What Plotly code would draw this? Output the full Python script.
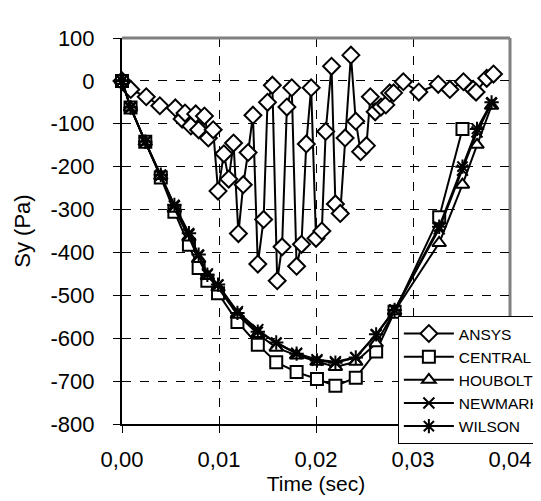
import plotly.graph_objects as go

# ---- data ----
ansys_t = [0, 0.0009, 0.0025, 0.0039, 0.0055, 0.0062, 0.0065, 0.0071, 0.0076, 0.0079, 0.0085, 0.0089,
           0.0094, 0.0099, 0.0105, 0.0110, 0.0115, 0.0120, 0.0125, 0.0130, 0.0135, 0.0140, 0.0146,
           0.0150, 0.0155, 0.0160, 0.0165, 0.0170, 0.0175, 0.0180, 0.0185, 0.0190, 0.0195, 0.0200,
           0.0206, 0.0210, 0.0216, 0.0220, 0.0225, 0.0230, 0.0236, 0.0241, 0.0246, 0.0252, 0.0256,
           0.0261, 0.0267, 0.0272, 0.0276, 0.0280, 0.0290, 0.0306, 0.0326, 0.0338, 0.0352, 0.0362,
           0.0365, 0.0376, 0.0383]
ansys_v = [0, -20, -37, -58, -63, -89, -75, -105, -77, -114, -82, -133,
           -114, -257, -170, -229, -145, -356, -242, -167, -80, -427, -323,
           -50, -10, -466, -387, -61, -16, -432, -381, -147, -16, -367,
           -350, -118, 34, -287, -309, -133, 60, -94, -165, -151, -37,
           -72, -61, -56, -28, -28, -2, -26, -8, -20, -2, -20,
           -26, 6, 16]

central_t = [0, 0.00088, 0.0024, 0.0040, 0.0054, 0.0069, 0.0079, 0.0088, 0.0099, 0.0119, 0.0140,
             0.0159, 0.0180, 0.0201, 0.0220, 0.0241, 0.0262, 0.0281, 0.0327, 0.0351]
central_v = [0, -62, -142, -225, -305, -382, -436, -466, -495, -562, -615,
             -656, -679, -695, -711, -692, -631, -538, -318, -112]

fem_t = [0, 0.00088, 0.0024, 0.0040, 0.0054, 0.0069, 0.0079, 0.0088, 0.0099, 0.0119, 0.0140,
         0.0159, 0.0180, 0.0201, 0.0220, 0.0241, 0.0262, 0.0281, 0.0327, 0.0351, 0.0366, 0.0381]
houbolt_v = [0, -62, -142, -222, -298, -365, -415, -455, -482, -545, -590,
             -622, -640, -655, -667, -655, -612, -537, -378, -242, -149, -58]
newmark_v = [0, -62, -142, -220, -292, -358, -407, -450, -476, -538, -580,
             -612, -635, -650, -655, -645, -592, -534, -345, -208, -119, -52]
wilson_v = [0, -62, -142, -219, -289, -355, -405, -452, -475, -541, -585,
            -610, -636, -652, -657, -645, -591, -534, -340, -200, -112, -50]

x_ticks = [0, 0.01, 0.02, 0.03, 0.04]
x_labels = ["0,00", "0,01", "0,02", "0,03", "0,04"]
y_ticks = [100, 0, -100, -200, -300, -400, -500, -600, -700, -800]
y_labels = ["100", "0", "-100", "-200", "-300", "-400", "-500", "-600", "-700", "-800"]

FONT = "Liberation Sans, Arial, sans-serif"

def trace(name, t, v, symbol, fill="white", size=11):
    return go.Scatter(
        x=t, y=v, name=name, mode="lines+markers",
        line=dict(color="black", width=2),
        marker=dict(symbol=symbol, size=size, color=fill,
                    line=dict(color="black", width=2)),
        cliponaxis=False,
    )

fig = go.Figure()
fig.add_trace(trace("ANSYS", ansys_t, ansys_v, "diamond", size=13))
fig.add_trace(trace("CENTRAL", central_t, central_v, "square", size=12))
fig.add_trace(trace("HOUBOLT", fem_t, houbolt_v, "triangle-up", size=12))
fig.add_trace(trace("NEWMARK", fem_t, newmark_v, "x-thin-open", fill="black", size=11))
fig.add_trace(trace("WILSON", fem_t, wilson_v, "asterisk-open", fill="black", size=12))

fig.update_layout(
    width=533, height=493,
    margin=dict(l=114, r=31, t=30, b=77, autoexpand=False),
    paper_bgcolor="white", plot_bgcolor="white",
    font=dict(family=FONT, size=22, color="black"),
    showlegend=True,
    legend=dict(
        x=0.711, y=0.28, xanchor="left", yanchor="top",
        bgcolor="white", bordercolor="black", borderwidth=1,
        font=dict(family=FONT, size=15.5, color="black"),
        itemwidth=50, tracegroupgap=0,
    ),
    xaxis=dict(
        range=[0, 0.04], tickvals=x_ticks, ticktext=x_labels,
        showgrid=True, gridcolor="black", griddash="dash", gridwidth=1,
        showline=True, linecolor="black", linewidth=2,
        ticks="outside", ticklen=7, tickcolor="black", tickwidth=1,
        zeroline=False, ticklabelstandoff=8,
        title=dict(text="Time (sec)", standoff=0, font=dict(size=21)),
    ),
    yaxis=dict(
        range=[-800, 100], tickvals=y_ticks, ticktext=y_labels,
        showgrid=True, gridcolor="black", griddash="dash", gridwidth=1,
        showline=True, linecolor="black", linewidth=2,
        ticks="outside", ticklen=7, tickcolor="black", tickwidth=1,
        zeroline=False, ticklabelstandoff=14,
        title=dict(text="Sy (Pa)", standoff=14, font=dict(size=22)),
    ),
)

# gray plot-area border (top and right)
fig.add_shape(type="line", xref="paper", yref="paper", x0=0, x1=1, y0=1, y1=1,
              line=dict(color="#808080", width=3), layer="above")
fig.add_shape(type="line", xref="paper", yref="paper", x0=1, x1=1, y0=0, y1=1,
              line=dict(color="#808080", width=3), layer="below")

fig.write_html("out.html")
